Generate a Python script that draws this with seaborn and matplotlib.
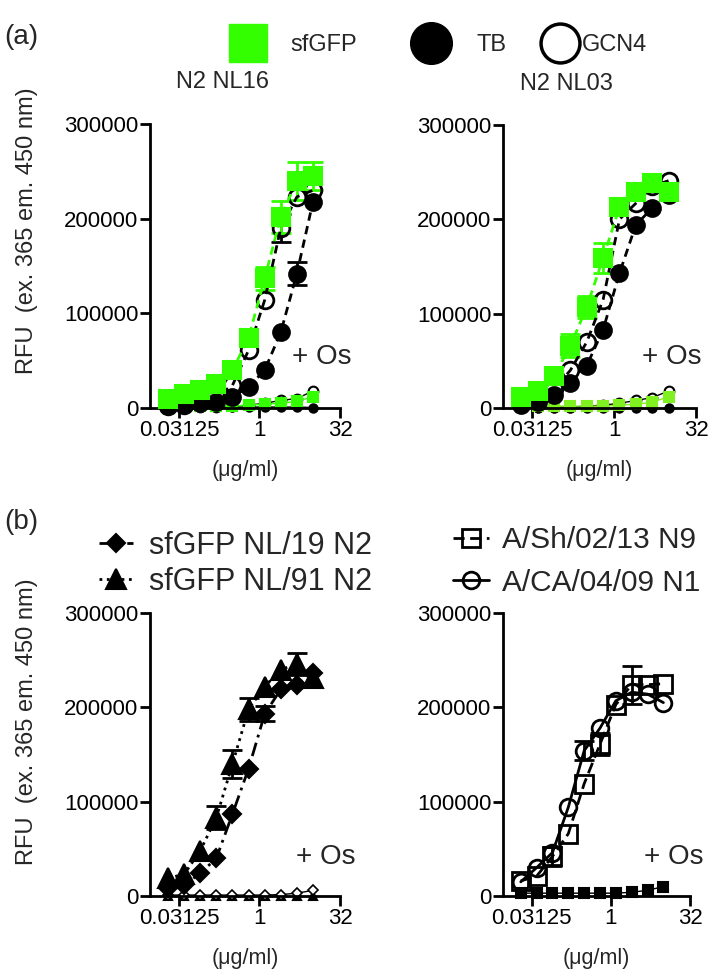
import matplotlib
matplotlib.use("Agg")
import matplotlib.pyplot as plt
from matplotlib.lines import Line2D
from matplotlib.ticker import NullLocator, FixedLocator, FixedFormatter
import seaborn as sns

# ---------------- data ----------------
conc = [0.0195, 0.039, 0.078, 0.156, 0.3125, 0.625, 1.25, 2.5, 5, 10]

# (a) N2 NL16
sfgfp_16 = [9000, 15000, 19000, 25000, 40000, 74000, 137000, 202000, 240000, 245000]
sfgfp_16_err = [0, 0, 0, 0, 0, 0, 12000, 17000, 20000, 15000]
tb_16 = [3000, 4000, 5000, 6000, 12000, 22000, 40000, 80000, 142000, 218000]
tb_16_err = [0, 0, 0, 0, 0, 0, 0, 0, 12000, 0]
gcn4_16 = [2000, 3000, 6000, 12000, 24000, 61000, 114000, 190000, 223000, 230000]
gcn4_16_err = [0, 0, 0, 0, 0, 0, 0, 15000, 0, 0]
sfgfp_os_16 = [2000, 2000, 2000, 2000, 2000, 3000, 4000, 5000, 7000, 12000]
gcn4_os_16 = [1000, 1000, 1000, 1000, 2000, 3000, 5000, 8000, 10000, 18000]
tb_os_16 = [1000, 1000, 1000, 1000, 1000, 1000, 1000, 1000, 1000, 500]

# (a) N2 NL03
sfgfp_03 = [12000, 18000, 34000, 66000, 107000, 159000, 213000, 229000, 238000, 229000]
sfgfp_03_err = [0, 0, 0, 12000, 12000, 16000, 0, 0, 0, 0]
tb_03 = [3000, 6000, 14000, 26000, 45000, 83000, 143000, 194000, 212000, 226000]
gcn4_03 = [5000, 10000, 20000, 40000, 70000, 115000, 200000, 217000, 235000, 241000]
sfgfp_os_03 = [1000, 2000, 2000, 2000, 2000, 2000, 3000, 4000, 6000, 12000]
gcn4_os_03 = [1000, 1000, 1000, 1000, 2000, 3000, 5000, 8000, 11000, 18000]
tb_os_03 = [500, 500, 500, 500, 500, 500, 500, 500, 500, 500]

# (b) left
nl19 = [8000, 12000, 24000, 40000, 87000, 135000, 193000, 219000, 224000, 236000]
nl19_err = [0, 0, 0, 0, 0, 0, 8000, 0, 0, 0]
nl91 = [19000, 23000, 48000, 83000, 140000, 198000, 222000, 240000, 246000, 231000]
nl91_err = [0, 0, 0, 12000, 15000, 12000, 0, 0, 12000, 0]
nl19_os = [1000, 1000, 1000, 1000, 1000, 1000, 1000, 1500, 3000, 6000]
nl91_os = [500, 500, 500, 500, 500, 500, 500, 500, 500, 500]

# (b) right
sh_n9 = [16000, 21000, 42000, 66000, 119000, 161000, 203000, 224000, 224000, 225000]
sh_n9_err = [0, 0, 10000, 0, 0, 12000, 0, 20000, 0, 0]
ca_n1 = [15000, 30000, 46000, 94000, 154000, 178000, 207000, 216000, 214000, 205000]
ca_n1_err = [0, 0, 0, 0, 10000, 0, 0, 0, 0, 0]
os_b = [3000, 3000, 3000, 3000, 3000, 3000, 3000, 4000, 6000, 10000]

xticks = [0.03125, 1, 32]
xticklabels = ["0.03125", "1", "32"]
yticks = [0, 100000, 200000, 300000]
yticklabels = ["0", "100000", "200000", "300000"]

GREEN = "#33ff00"
GREEN_OS = "#80f020"

# ---------------- style ----------------
sns.set_theme(style="ticks")
plt.rcParams["font.family"] = ["Liberation Sans", "DejaVu Sans"]

W, H = 709, 971
fig = plt.figure(figsize=(W / 100, H / 100), dpi=100)


def add_ax(x0, x1, ytop, ybot):
    return fig.add_axes([x0 / W, 1 - ybot / H, (x1 - x0) / W, (ybot - ytop) / H])


def style(ax):
    ax.set_xscale("log", base=2)
    ax.set_xlim(2 ** -6.8, 32)
    ax.set_ylim(0, 300000)
    ax.xaxis.set_major_locator(FixedLocator(xticks))
    ax.xaxis.set_major_formatter(FixedFormatter(xticklabels))
    ax.xaxis.set_minor_locator(NullLocator())
    ax.yaxis.set_major_locator(FixedLocator(yticks))
    ax.yaxis.set_major_formatter(FixedFormatter(yticklabels))
    sns.despine(ax=ax)
    for s in ["left", "bottom"]:
        ax.spines[s].set_linewidth(2)
        ax.spines[s].set_color("black")
    ax.tick_params(width=2, length=7, labelsize=16, pad=1.5, colors="black")
    ax.set_xlabel("(μg/ml)", fontsize=15.5, labelpad=14)
    ax.set_ylabel("")


def series(ax, y, marker, color, ls, ms, mfc=None, mec=None, mew=1.5, lw=2, z=3, label=None):
    sns.lineplot(x=conc, y=y, ax=ax, color=color, linestyle=ls, marker=marker,
                 markersize=ms, markerfacecolor=color if mfc is None else mfc,
                 markeredgecolor=color if mec is None else mec,
                 markeredgewidth=mew, linewidth=lw, zorder=z, clip_on=False,
                 label=label, legend=False)


def errs(ax, y, e, color, z=2):
    xs = [c for c, v in zip(conc, e) if v > 0]
    ys = [c for c, v in zip(y, e) if v > 0]
    es = [v for v in e if v > 0]
    ax.errorbar(xs, ys, yerr=es, fmt="none", ecolor=color, elinewidth=2,
                capsize=7, capthick=2, zorder=z, clip_on=False)


axA1 = add_ax(150, 340, 124, 408)
axA2 = add_ax(503, 696, 125, 408)
axB1 = add_ax(150, 340, 613, 896)
axB2 = add_ax(503, 690, 613, 896)
for ax in (axA1, axA2, axB1, axB2):
    style(ax)

# ---- panel a left
ax = axA1
series(ax, tb_os_16, "o", "black", "-", 6, lw=1, z=2)
series(ax, gcn4_os_16, "o", "black", "-", 7, mfc="white", mew=1.5, lw=1, z=2)
series(ax, sfgfp_os_16, "s", GREEN, "-", 7, lw=1, z=2)
errs(ax, gcn4_16, gcn4_16_err, "black")
series(ax, gcn4_16, "o", "black", (0, (3, 2)), 12, mfc="none", mew=2, z=3)
errs(ax, tb_16, tb_16_err, "black")
series(ax, tb_16, "o", "black", (0, (3, 2)), 12, z=4)
errs(ax, sfgfp_16, sfgfp_16_err, GREEN)
series(ax, sfgfp_16, "s", GREEN, (0, (3, 2)), 13, z=5)

# ---- panel a right
ax = axA2
series(ax, tb_os_03, "o", "black", "-", 6, lw=1, z=2)
series(ax, gcn4_os_03, "o", "black", "-", 7, mfc="white", mew=1.5, lw=1, z=2)
series(ax, sfgfp_os_03, "s", GREEN_OS, "-", 7, lw=1, z=2)
series(ax, tb_03, "o", "black", (0, (3, 2)), 12, z=3)
series(ax, gcn4_03, "o", "black", (0, (3, 2)), 12, mfc="none", mew=2, z=4)
errs(ax, sfgfp_03, sfgfp_03_err, GREEN)
series(ax, sfgfp_03, "s", GREEN, (0, (3, 2)), 13, z=5)

# ---- panel b left
ax = axB1
series(ax, nl91_os, "^", "black", "-", 6, lw=1, z=2)
series(ax, nl19_os, "D", "black", "-", 5, mfc="white", mew=1.2, lw=1, z=2)
errs(ax, nl19, nl19_err, "black")
series(ax, nl19, "D", "black", (0, (5, 2, 1, 2)), 9, z=3, label="sfGFP NL/19 N2")
errs(ax, nl91, nl91_err, "black")
series(ax, nl91, "^", "black", ":", 14, z=4, label="sfGFP NL/91 N2")

# ---- panel b right
ax = axB2
series(ax, os_b, "s", "black", "-", 7, lw=1, z=2)
errs(ax, sh_n9, sh_n9_err, "black")
series(ax, sh_n9, "s", "black", (0, (4, 2)), 13, mfc="none", mew=2, z=3, label="A/Sh/02/13 N9")
errs(ax, ca_n1, ca_n1_err, "black")
series(ax, ca_n1, "o", "black", "-", 12, mfc="none", mew=2, z=4, label="A/CA/04/09 N1")

# ---------------- texts ----------------
def ftext(x, y, s, **kw):
    fig.text(x / W, 1 - y / H, s, **kw)

ftext(4, 37, "(a)", fontsize=20, va="center", ha="left")
ftext(4, 522, "(b)", fontsize=20, va="center", ha="left")
ftext(222, 82, "N2 NL16", fontsize=17, ha="center", va="center")
ftext(566, 84, "N2 NL03", fontsize=17, ha="center", va="center")
for (x, y) in [(322, 357), (672, 357), (326, 857), (674, 857)]:
    ftext(x, y, "+ Os", fontsize=20, ha="center", va="center")
ftext(27, 231, "RFU  (ex. 365 em. 450 nm)", fontsize=17, rotation=90, ha="center", va="center")
ftext(27, 722, "RFU  (ex. 365 em. 450 nm)", fontsize=17, rotation=90, ha="center", va="center")

# top legend (three single-entry legends)
h_sf = Line2D([], [], marker="s", ls="none", ms=27, color=GREEN)
h_tb = Line2D([], [], marker="o", ls="none", ms=30, color="black")
h_gc = Line2D([], [], marker="o", ls="none", ms=28, mfc="white", mec="black", mew=2.5)
for h, lab, x0, pad in [(h_sf, "sfGFP", 227, 0.95), (h_tb, "TB", 410, 1.05), (h_gc, "GCN4", 539, 0.08)]:
    fig.legend([h], [lab], loc="center left", bbox_to_anchor=(x0 / W, 1 - 45 / H),
               frameon=False, fontsize=17, handlelength=1.75, handletextpad=pad,
               borderpad=0, borderaxespad=0)

# panel b legends
hl, ll = axB1.get_legend_handles_labels()
fig.legend(hl, ll, loc="upper left", bbox_to_anchor=(99 / W, 1 - 531 / H), frameon=False,
           fontsize=22, handlelength=1.1, handletextpad=0.55, labelspacing=0.2,
           borderpad=0, borderaxespad=0)
hr, lr = axB2.get_legend_handles_labels()
fig.legend(hr, lr, loc="upper left", bbox_to_anchor=(453 / W, 1 - 526 / H), frameon=False,
           fontsize=21.5, handlelength=1.2, handletextpad=0.45, labelspacing=0.5,
           borderpad=0, borderaxespad=0)

fig.savefig("out.png", dpi=100)
